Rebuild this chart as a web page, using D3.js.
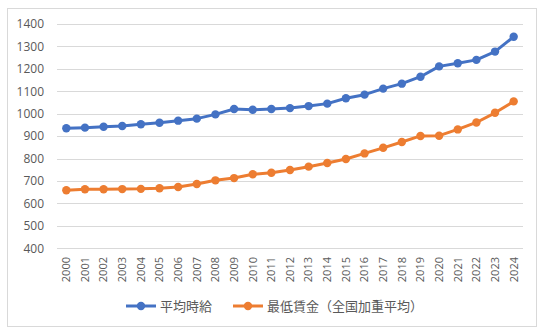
<!DOCTYPE html>
<html><head><meta charset="utf-8">
<script src="https://cdn.jsdelivr.net/npm/d3@7"></script>
<style>body{margin:0;background:#fff;}svg{display:block;font-family:"Noto Sans CJK JP","Open Sans",sans-serif;}</style>
</head><body>
<svg id="c" width="544" height="332"></svg>
<script>
const years = ["2000","2001","2002","2003","2004","2005","2006","2007","2008","2009","2010","2011","2012","2013","2014","2015","2016","2017","2018","2019","2020","2021","2022","2023","2024"];
const avgHourly = [935,938,942,945,953,960,969,978,997,1021,1018,1021,1025,1034,1045,1069,1085,1112,1134,1165,1211,1225,1240,1277,1343];
const minWage = [659,663,663,664,665,668,673,687,703,713,730,737,749,764,780,798,823,848,874,901,902,930,961,1004,1055];
const yTicks = [400,500,600,700,800,900,1000,1100,1200,1300,1400];
const seriesNames = ["平均時給","最低賃金（全国加重平均）"];
const colors = ["#4472C4","#ED7D31"];

const svg = d3.select("#c");
svg.append("rect").attr("x",7.5).attr("y",8.5).attr("width",529).attr("height",318)
  .attr("fill","#fff").attr("stroke","#d9d9d9");

const x = d3.scaleBand().domain(years).range([57,523]);
const y = d3.scaleLinear().domain([400,1400]).range([248.3,24]);

const grid = svg.append("g");
grid.selectAll("line").data(yTicks).join("line")
  .attr("x1",57).attr("x2",523)
  .attr("y1",d=>Math.round(y(d))+0.5).attr("y2",d=>Math.round(y(d))+0.5)
  .attr("stroke","#d9d9d9").attr("stroke-width",1);

const yAxis = svg.append("g").attr("transform","translate(49,0)")
  .call(d3.axisLeft(y).tickValues(yTicks).tickFormat(d3.format("d")).tickSize(0).tickPadding(0));
yAxis.select(".domain").remove();
yAxis.selectAll("text").attr("font-size",12).attr("fill","#595959").attr("dx",-5).attr("font-family","'Open Sans',sans-serif");

const xAxis = svg.append("g").attr("transform","translate(0,248)")
  .call(d3.axisBottom(x).tickSize(0));
xAxis.select(".domain").remove();
xAxis.selectAll("text")
  .attr("font-size",11).attr("fill","#595959").attr("font-family","'Open Sans',sans-serif")
  .attr("transform","rotate(-90)").attr("text-anchor","end")
  .attr("x",-9).attr("y",0).attr("dy","0.35em");

const data = [avgHourly, minWage];
const line = d3.line().x((d,i)=>x(years[i])+x.bandwidth()/2).y(d=>y(d));
data.forEach((s,k)=>{
  svg.append("path").datum(s).attr("d",line).attr("fill","none")
    .attr("stroke",colors[k]).attr("stroke-width",3).attr("stroke-linejoin","round");
  svg.append("g").selectAll("circle").data(s).join("circle")
    .attr("cx",(d,i)=>x(years[i])+x.bandwidth()/2).attr("cy",d=>y(d)).attr("r",4.2)
    .attr("fill",colors[k]);
});

// legend
const lg = svg.append("g");
const lx = [126,233];
seriesNames.forEach((n,k)=>{
  lg.append("line").attr("x1",lx[k]).attr("x2",lx[k]+30).attr("y1",306).attr("y2",306)
    .attr("stroke",colors[k]).attr("stroke-width",3);
  lg.append("circle").attr("cx",lx[k]+15).attr("cy",306).attr("r",4.2).attr("fill",colors[k]);
  lg.append("text").attr("x",lx[k]+34).attr("y",306).attr("dy","0.35em")
    .attr("font-size",13).attr("fill","#595959").text(n);
});
</script>
</body></html>
